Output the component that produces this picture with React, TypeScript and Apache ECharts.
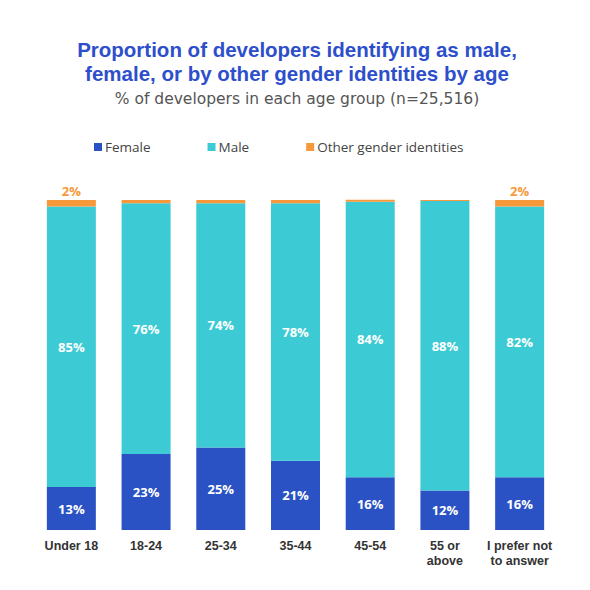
import React, { useEffect, useRef } from "react";
import * as echarts from "echarts";

const categories = ["Under 18", "18-24", "25-34", "35-44", "45-54", "55 or\nabove", "I prefer not\nto answer"];
const femaleValues = [13, 23, 25, 21, 16, 12, 16];
const maleValues = [85, 76, 74, 78, 83.5, 87.7, 82];
const otherValues = [2, 1, 1, 1, 0.6, 0.3, 2];

const titleLines = "Proportion of developers identifying as male,\nfemale, or by other gender identities by age";
const subtitleText = "% of developers in each age group (n=25,516)";

const FONT = "'Open Sans', sans-serif";
const FONT_B = "'Liberation Sans', Arial, sans-serif";

export default function App() {
  const ref = useRef<HTMLDivElement>(null);
  useEffect(() => {
    if (!ref.current) return;
    const chart = echarts.init(ref.current, undefined, { renderer: "svg" });
    const pct = (p: any) => `${Math.round(p.value)}%`;
    chart.setOption({
      animation: false,
      backgroundColor: "#ffffff",
      graphic: [
        {
          type: "text",
          x: 297,
          y: 38,
          style: {
            text: titleLines,
            textAlign: "center",
            textVerticalAlign: "top",
            fontFamily: FONT_B,
            fontSize: 20.5,
            fontWeight: "bold",
            fill: "#2d4fcb",
            lineHeight: 23.5,
          },
        },
        {
          type: "text",
          x: 297,
          y: 91,
          style: {
            text: subtitleText,
            textAlign: "center",
            textVerticalAlign: "top",
            fontFamily: "'DejaVu Sans', sans-serif",
            fontSize: 15.5,
            fill: "#555555",
          },
        },
      ],
      legend: {
        top: 135,
        left: 89,
        itemWidth: 8,
        itemHeight: 8,
        itemGap: 57,
        icon: "rect",
        textStyle: { fontFamily: FONT, fontSize: 13.5, color: "#444444", padding: [0, 0, 0, -2] },
        data: ["Female", "Male", "Other gender identities"],
      },
      grid: { left: 34, right: 33, top: 200, bottom: 60 },
      xAxis: {
        type: "category",
        data: categories,
        axisLine: { show: false },
        axisTick: { show: false },
        axisLabel: {
          interval: 0,
          margin: 9,
          fontFamily: FONT_B,
          fontSize: 12.5,
          fontWeight: "bold",
          color: "#333333",
          lineHeight: 14.5,
        },
      },
      yAxis: {
        type: "value",
        min: 0,
        max: 100,
        show: false,
        splitLine: { show: false },
      },
      series: [
        {
          name: "Female",
          type: "bar",
          stack: "total",
          barWidth: 49,
          data: femaleValues,
          itemStyle: { color: "#2a52c4" },
          label: {
            show: true,
            position: "inside",
            formatter: pct,
            color: "#ffffff",
            fontFamily: FONT,
            fontSize: 13,
            fontWeight: "bold",
          },
        },
        {
          name: "Male",
          type: "bar",
          stack: "total",
          barWidth: 49,
          data: maleValues,
          itemStyle: { color: "#3ccbd4" },
          label: {
            show: true,
            position: "inside",
            formatter: pct,
            color: "#ffffff",
            fontFamily: FONT,
            fontSize: 13,
            fontWeight: "bold",
          },
        },
        {
          name: "Other gender identities",
          type: "bar",
          stack: "total",
          barWidth: 49,
          clip: false,
          data: otherValues,
          itemStyle: { color: "#f7993a" },
          label: {
            show: true,
            position: "top",
            distance: 3,
            formatter: (p: any) => (p.value >= 2 ? `${Math.round(p.value)}%` : ""),
            color: "#f7993a",
            fontFamily: FONT,
            fontSize: 13,
            fontWeight: "bold",
          },
        },
      ],
    });
    return () => chart.dispose();
  }, []);
  return (
    <div
      ref={ref}
      style={{ position: "fixed", left: 0, top: 0, width: 590, height: 590, background: "#fff" }}
    />
  );
}
